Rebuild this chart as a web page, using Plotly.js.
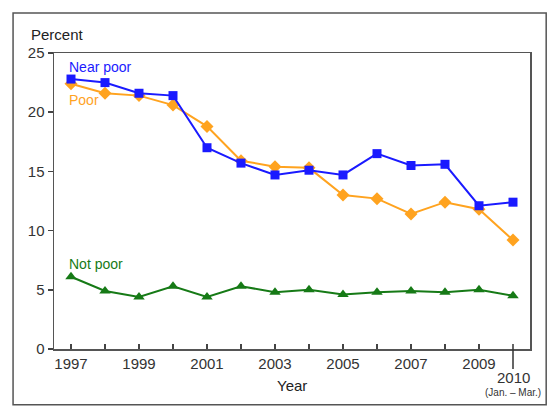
<!DOCTYPE html>
<html>
<head>
<meta charset="utf-8">
<script src="https://cdn.plot.ly/plotly-3.0.1.min.js"></script>
<style>
  html, body { margin: 0; padding: 0; background: #fff; }
  #chart { width: 560px; height: 420px; }
</style>
</head>
<body>
<div id="chart"></div>
<script>
// ---- data ----
var years = [1997, 1998, 1999, 2000, 2001, 2002, 2003, 2004, 2005, 2006, 2007, 2008, 2009, 2010];
var nearPoor = [22.8, 22.5, 21.6, 21.4, 17.0, 15.7, 14.7, 15.1, 14.7, 16.5, 15.5, 15.6, 12.1, 12.4];
var poor     = [22.4, 21.6, 21.4, 20.6, 18.8, 15.9, 15.4, 15.3, 13.0, 12.7, 11.4, 12.4, 11.8, 9.2];
var notPoor  = [6.1, 4.9, 4.4, 5.3, 4.4, 5.3, 4.8, 5.0, 4.6, 4.8, 4.9, 4.8, 5.0, 4.5];
var tickYears = [1997, 1998, 1999, 2000, 2001, 2002, 2003, 2004, 2005, 2006, 2007, 2008, 2009];
var tickLabels = ["1997", "", "1999", "", "2001", "", "2003", "", "2005", "", "2007", "", "2009"];
var lastLabel = "2010";
var lastSubLabel = "(Jan. \u2013 Mar.)";
var yTicks = [0, 5, 10, 15, 20, 25];

var blue = "#1a1aff", orange = "#ffa31f", green = "#167a16";
var font = "Liberation Sans, Arial, Helvetica, sans-serif";

var traces = [
  { x: years, y: notPoor, mode: "lines+markers", name: "Not poor",
    line: { color: green, width: 2 },
    marker: { symbol: "triangle-up", size: 10, color: green } },
  { x: years, y: poor, mode: "lines+markers", name: "Poor",
    line: { color: orange, width: 2 },
    marker: { symbol: "diamond", size: 10, color: orange } },
  { x: years, y: nearPoor, mode: "lines+markers", name: "Near poor",
    line: { color: blue, width: 2 },
    marker: { symbol: "square", size: 9, color: blue } }
];

var layout = {
  width: 560, height: 420,
  margin: { l: 54, r: 30, t: 53, b: 71 },
  paper_bgcolor: "#fff", plot_bgcolor: "#fff",
  showlegend: false,
  font: { family: font, size: 15, color: "#333" },
  xaxis: {
    range: [1996.5, 2010.5], tickmode: "array", tickvals: tickYears, ticktext: tickLabels,
    ticks: "inside", ticklen: 5, tickwidth: 1.5, tickcolor: "#444",
    showline: true, linecolor: "#555", linewidth: 1.5, mirror: true,
    showgrid: false, zeroline: false,
    tickfont: { family: font, size: 15, color: "#333" }
  },
  yaxis: {
    range: [0, 25], tickmode: "array", tickvals: yTicks,
    ticks: "outside", ticklen: 5, tickwidth: 1.5, tickcolor: "#444",
    showline: true, linecolor: "#555", linewidth: 1.5, mirror: true,
    showgrid: false, zeroline: false,
    tickfont: { family: font, size: 15, color: "#333" }
  },
  shapes: [
    { type: "rect", xref: "paper", yref: "paper", x0: -0.086, x1: 1.034, y0: -0.188, y1: 1.135,
      line: { color: "#555", width: 1.5 } },
    { type: "line", xref: "x", yref: "paper", x0: 2010, x1: 2010, y0: 0.017, y1: -0.0675,
      line: { color: "#333", width: 1.5 } }
  ],
  annotations: [
    { text: "Percent", xref: "paper", yref: "paper", x: -0.053, y: 1.064, xanchor: "left", yanchor: "middle",
      showarrow: false, font: { family: font, size: 15, color: "#222" } },
    { text: "Year", xref: "paper", yref: "paper", x: 0.5, y: -0.124, xanchor: "center", yanchor: "middle",
      showarrow: false, font: { family: font, size: 15, color: "#222" } },
    { text: lastLabel, xref: "x", yref: "paper", x: 2010, y: -0.097, xanchor: "center", yanchor: "middle",
      showarrow: false, font: { family: font, size: 15, color: "#333" } },
    { text: lastSubLabel, xref: "x", yref: "paper", x: 2010, y: -0.148, xanchor: "center", yanchor: "middle",
      showarrow: false, font: { family: font, size: 10, color: "#333" } },
    { text: "Near poor", xref: "x", yref: "y", x: 1996.88, y: 23.8, xanchor: "left", yanchor: "middle",
      showarrow: false, font: { family: font, size: 14, color: blue } },
    { text: "Poor", xref: "x", yref: "y", x: 1996.88, y: 21.0, xanchor: "left", yanchor: "middle",
      showarrow: false, font: { family: font, size: 14, color: orange } },
    { text: "Not poor", xref: "x", yref: "y", x: 1996.88, y: 7.2, xanchor: "left", yanchor: "middle",
      showarrow: false, font: { family: font, size: 14, color: green } }
  ]
};

Plotly.newPlot("chart", traces, layout, { displayModeBar: false, staticPlot: true });
</script>
</body>
</html>
